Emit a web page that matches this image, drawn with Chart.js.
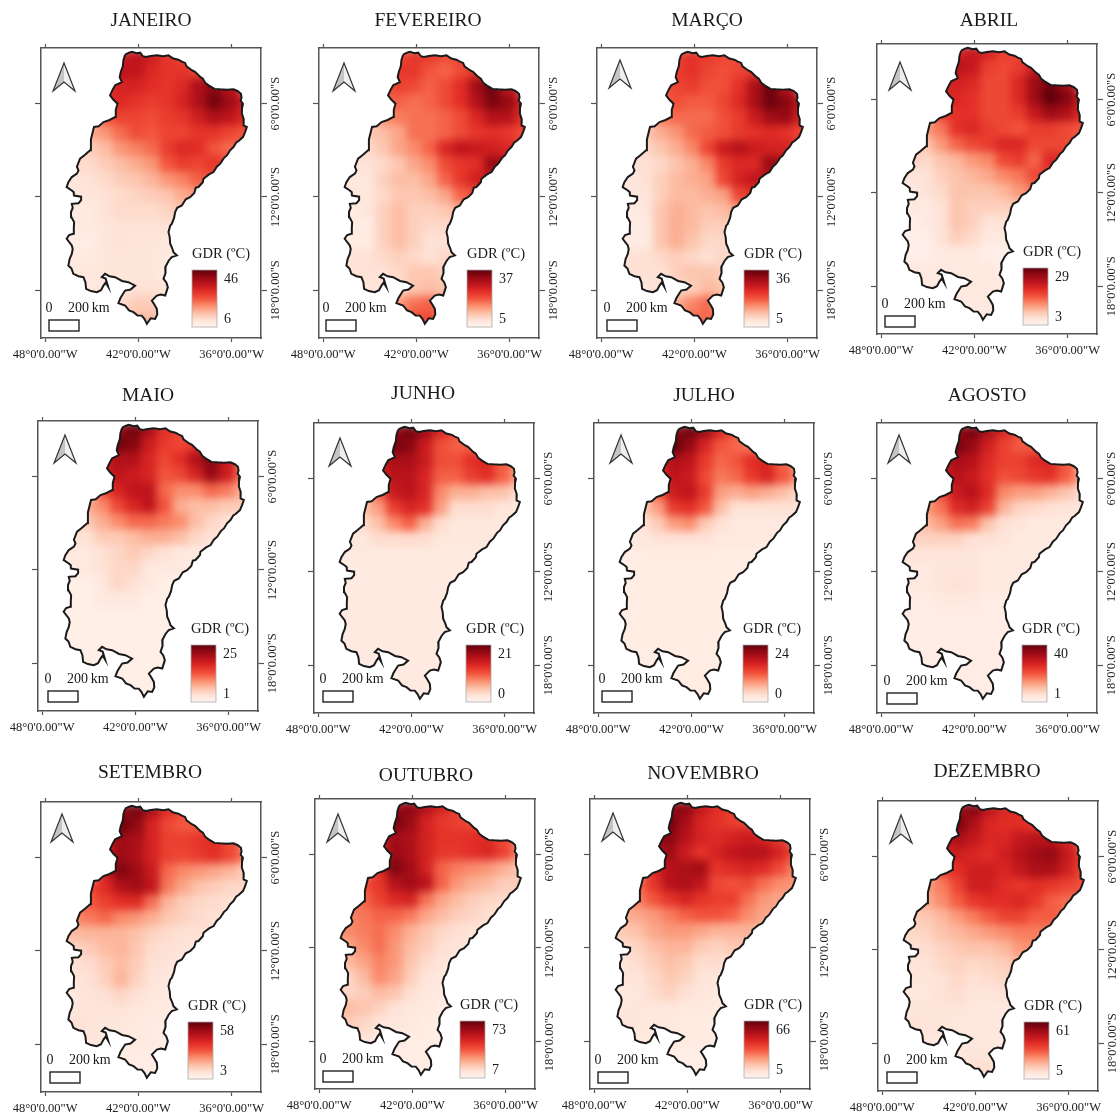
<!DOCTYPE html>
<html>
<head>
<meta charset="utf-8">
<script src="https://cdn.jsdelivr.net/npm/chart.js@4"></script>
<style>
  html, body { margin: 0; padding: 0; background: #fff; overflow: hidden; }
  #page { position: relative; width: 1120px; height: 1113px; overflow: hidden; }
  canvas { position: absolute; }
</style>
</head>
<body>
<div id="page"></div>
<script>
const monthNames = ["JANEIRO", "FEVEREIRO", "MARÇO", "ABRIL", "MAIO", "JUNHO", "JULHO", "AGOSTO", "SETEMBRO", "OUTUBRO", "NOVEMBRO", "DEZEMBRO"];
const scaleMax = [46, 37, 36, 29, 25, 21, 24, 40, 58, 73, 66, 61];
const scaleMin = [6, 5, 5, 3, 1, 0, 0, 1, 3, 7, 5, 5];

const lonTicks = [-48, -42, -36];
const lonLabels = ["48°0'0.00\"W", "42°0'0.00\"W", "36°0'0.00\"W"];
const latTicks = [-6, -12, -18];
const latLabels = ["6°0'0.00\"S", "12°0'0.00\"S", "18°0'0.00\"S"];

// region border as [lon, lat]
const borderCoords = [
  [-42.85, -2.85], [-42.6, -2.72], [-42.42, -2.67], [-42.1, -2.75], [-41.88, -2.72], [-41.7, -2.95], [-41.52, -3.0], [-41.2, -2.93],
  [-40.81, -2.89], [-40.4, -2.95], [-40.06, -2.89], [-39.75, -3.1], [-39.42, -3.17], [-39.2, -3.3], [-38.99, -3.38], [-38.9, -3.6],
  [-38.56, -3.85], [-38.35, -3.95], [-38.02, -4.28], [-37.85, -4.4], [-37.7, -4.65], [-37.48, -4.82], [-37.1, -5.05], [-36.73, -5.08],
  [-36.3, -5.1], [-35.88, -5.08], [-35.6, -5.2], [-35.4, -5.36], [-35.36, -5.6], [-35.42, -5.8], [-35.27, -6.0], [-35.33, -6.3],
  [-35.34, -6.64], [-35.22, -7.0], [-35.23, -7.39], [-35.02, -7.5], [-35.14, -7.85], [-35.27, -8.15], [-35.55, -8.4], [-35.7, -8.5],
  [-35.88, -8.79], [-36.1, -9.0], [-36.3, -9.33], [-36.5, -9.5], [-36.73, -9.86], [-36.95, -10.05], [-37.16, -10.4], [-37.45, -10.55],
  [-37.81, -10.83], [-37.85, -11.05], [-38.13, -11.36], [-38.3, -11.4], [-38.4, -11.75], [-38.67, -12.01], [-38.95, -12.15], [-39.2, -12.55],
  [-39.5, -12.7], [-39.63, -12.97], [-39.7, -13.35], [-39.85, -13.73], [-39.95, -13.85], [-40.06, -14.26], [-39.98, -14.6], [-39.95, -15.01],
  [-39.82, -15.3], [-39.74, -15.55], [-39.52, -15.76], [-39.85, -15.87], [-40.05, -16.1], [-40.27, -16.52], [-40.25, -16.9], [-40.38, -17.27],
  [-40.2, -17.5], [-40.1, -17.8], [-40.27, -18.34], [-40.55, -18.28], [-40.81, -18.34], [-41.13, -18.66], [-40.95, -18.95], [-40.81, -19.2],
  [-40.78, -19.55], [-40.92, -19.84], [-41.2, -19.8], [-41.45, -20.16], [-41.6, -19.85], [-41.78, -19.63], [-42.05, -19.62], [-42.31, -19.41],
  [-42.6, -19.3], [-42.85, -18.98], [-43.28, -18.83], [-43.15, -18.5], [-42.85, -18.02], [-42.5, -17.95], [-42.21, -17.7], [-42.64, -17.48],
  [-43.05, -17.4], [-43.49, -17.16], [-43.85, -17.1], [-44.14, -16.94], [-44.35, -17.16], [-44.1, -17.25], [-43.95, -17.75], [-44.1, -17.5],
  [-44.24, -17.7], [-44.4, -18.0], [-44.67, -18.12], [-45.05, -18.05], [-45.36, -17.91], [-45.4, -17.5], [-45.53, -17.16], [-45.85, -17.1],
  [-46.18, -16.94], [-46.3, -16.6], [-46.5, -16.41], [-46.42, -16.0], [-46.28, -15.66], [-46.22, -15.35], [-46.28, -15.12], [-46.61, -14.69],
  [-46.45, -14.45], [-46.18, -14.37], [-46.15, -14.0], [-46.13, -13.62], [-46.3, -13.3], [-46.33, -12.97], [-46.22, -12.7], [-46.28, -12.44],
  [-45.85, -12.4], [-45.68, -12.2], [-45.68, -11.98], [-46.18, -11.9], [-46.15, -11.7], [-46.28, -11.58], [-46.61, -11.36], [-46.5, -11.05], [-46.28, -10.72],
  [-45.95, -10.5], [-45.85, -10.29], [-45.95, -10.05], [-45.75, -9.54], [-45.45, -9.3], [-45.1, -9.0], [-45.05, -8.3], [-44.85, -7.5],
  [-44.55, -7.45], [-44.24, -7.18], [-43.85, -7.05], [-43.49, -6.86], [-43.45, -6.4], [-43.34, -6.0], [-43.6, -5.75], [-43.82, -5.46],
  [-43.65, -5.1], [-43.49, -4.82], [-43.06, -4.61], [-43.2, -4.3], [-43.13, -3.96], [-43.0, -3.6], [-42.96, -3.21], [-42.85, -2.85],
];

// one row of cells per latitude, the row starts at gridStartLon and goes east in 1 degree steps
const gridLat = [-3, -4, -5, -6, -7, -8, -9, -10, -11, -12, -13, -14, -15, -16, -17, -18, -19, -20];
const gridStartLon = [-43, -44, -44, -44, -44, -45, -46, -46, -47, -47, -47, -47, -47, -47, -47, -46, -44, -43];

const gdrJaneiro = [
  [34, 36, 34, 30, 28],
  [32, 36, 36, 32, 30, 30, 28],
  [30, 33, 33, 31, 30, 32, 38, 42, 36],
  [30, 32, 30, 29, 30, 33, 38, 44, 40, 34],
  [26, 28, 28, 27, 29, 30, 34, 38, 36, 32],
  [18, 20, 24, 27, 26, 28, 28, 30, 30, 28, 26],
  [14, 14, 16, 20, 22, 24, 29, 32, 31, 26, 24, 24],
  [12, 12, 14, 16, 18, 20, 26, 29, 28, 30, 28],
  [10, 10, 11, 12, 14, 15, 17, 20, 22, 25, 27],
  [10, 10, 10, 11, 12, 13, 14, 15, 18, 20],
  [9, 9, 9, 11, 12, 12, 12, 13, 15],
  [9, 9, 9, 10, 11, 11, 11, 11, 12],
  [8, 8, 8, 10, 11, 10, 10, 10, 10],
  [9, 9, 9, 10, 10, 10, 10, 9, 9],
  [9, 9, 10, 10, 10, 10, 10, 9, 9],
  [9, 9, 10, 10, 11, 11, 10, 10],
  [11, 12, 14, 14, 12],
  [14, 16, 16, 14],
];
const gdrFevereiro = [
  [22, 24, 24, 22, 22],
  [22, 24, 24, 21, 20, 22, 24],
  [21, 23, 22, 20, 22, 25, 32, 36, 28],
  [20, 20, 19, 20, 22, 25, 30, 35, 33, 27],
  [17, 18, 19, 19, 20, 22, 26, 30, 30, 25],
  [12, 13, 15, 19, 19, 20, 22, 24, 25, 24, 22],
  [10, 10, 12, 15, 17, 20, 26, 29, 28, 27, 26, 24],
  [9, 9, 10, 12, 15, 17, 22, 24, 25, 33, 30],
  [8, 8, 8, 11, 13, 13, 15, 20, 24, 27, 28],
  [8, 8, 8, 10, 12, 12, 13, 15, 20, 22],
  [7, 7, 8, 11, 13, 11, 11, 12, 14],
  [7, 7, 7, 11, 13, 11, 10, 10, 10],
  [7, 7, 7, 11, 13, 11, 9, 9, 9],
  [8, 9, 9, 10, 11, 10, 9, 10, 10],
  [9, 9, 9, 9, 10, 12, 12, 11, 10],
  [8, 8, 9, 10, 12, 13, 12, 11],
  [13, 16, 19, 20, 16],
  [18, 22, 22, 18],
];
const gdrMarco = [
  [22, 24, 23, 22, 21],
  [21, 23, 24, 22, 21, 22, 23],
  [20, 22, 23, 21, 21, 24, 30, 35, 28],
  [20, 21, 20, 20, 22, 25, 30, 35, 33, 28],
  [18, 19, 19, 19, 21, 23, 27, 31, 32, 26],
  [12, 14, 16, 19, 20, 21, 23, 24, 25, 24, 22],
  [10, 10, 12, 14, 17, 22, 27, 29, 27, 26, 26, 24],
  [9, 9, 10, 12, 14, 17, 23, 25, 25, 32, 30],
  [8, 8, 9, 11, 13, 14, 15, 22, 26, 28, 28],
  [8, 8, 8, 11, 13, 13, 14, 15, 22, 24],
  [7, 7, 8, 12, 14, 13, 12, 13, 15],
  [7, 7, 7, 12, 14, 13, 11, 11, 11],
  [7, 7, 7, 12, 14, 12, 10, 10, 10],
  [8, 9, 9, 10, 11, 10, 9, 10, 10],
  [9, 9, 9, 9, 11, 12, 12, 11, 10],
  [8, 8, 9, 10, 11, 13, 12, 11],
  [12, 14, 17, 19, 15],
  [16, 19, 19, 17],
];
const gdrAbril = [
  [20, 22, 21, 18, 17],
  [21, 23, 22, 18, 17, 18, 21],
  [20, 21, 20, 17, 17, 20, 25, 28, 24],
  [20, 20, 19, 17, 17, 20, 25, 29, 27, 22],
  [18, 19, 19, 17, 17, 18, 22, 25, 24, 20],
  [12, 14, 19, 20, 18, 17, 16, 18, 18, 17, 16],
  [9, 9, 12, 15, 17, 18, 20, 20, 17, 17, 17, 16],
  [8, 7, 9, 10, 12, 13, 17, 18, 15, 20, 19],
  [6, 6, 6, 8, 9, 10, 11, 13, 14, 17, 18],
  [5, 5, 6, 7, 9, 9, 9, 10, 12, 14],
  [5, 5, 5, 6, 9, 8, 8, 8, 9],
  [4, 4, 5, 6, 9, 8, 6, 6, 6],
  [4, 4, 4, 6, 8, 7, 5, 5, 5],
  [4, 4, 4, 5, 5, 5, 4, 4, 4],
  [5, 5, 5, 5, 5, 5, 5, 4, 4],
  [5, 5, 5, 5, 5, 5, 5, 4],
  [5, 5, 5, 5, 5],
  [5, 5, 5, 5],
];
const gdrMaio = [
  [21, 24, 21, 16, 14],
  [20, 24, 23, 18, 15, 14, 15],
  [17, 20, 20, 17, 14, 16, 20, 23, 18],
  [17, 19, 18, 17, 13, 14, 17, 22, 18, 12],
  [14, 17, 19, 19, 12, 10, 10, 12, 11, 8],
  [8, 10, 14, 17, 19, 13, 8, 7, 7, 6, 6],
  [5, 6, 8, 10, 12, 12, 11, 10, 7, 5, 4, 4],
  [4, 4, 6, 6, 7, 8, 8, 7, 5, 4, 4],
  [3, 3, 3, 4, 5, 6, 5, 4, 3, 3, 3],
  [3, 3, 3, 4, 5, 5, 3, 3, 3, 3],
  [2, 2, 2, 3, 5, 4, 3, 2, 2],
  [2, 2, 2, 3, 3, 3, 2, 2, 2],
  [2, 2, 2, 2, 2, 2, 2, 2, 2],
  [2, 2, 2, 2, 2, 2, 2, 2, 2],
  [2, 2, 2, 2, 2, 2, 2, 2, 2],
  [2, 2, 2, 2, 2, 2, 2, 2],
  [2, 2, 2, 2, 2],
  [2, 2, 2, 2],
];
const gdrJunho = [
  [18, 20, 18, 14, 11],
  [17, 20, 19, 15, 11, 10, 10],
  [14, 17, 17, 15, 11, 11, 13, 14, 10],
  [14, 16, 16, 14, 10, 10, 12, 13, 10, 7],
  [10, 15, 16, 14, 8, 6, 6, 5, 5, 3],
  [5, 7, 12, 14, 13, 7, 3, 3, 3, 2, 2],
  [2, 3, 5, 8, 10, 6, 3, 2, 2, 2, 2, 2],
  [2, 2, 3, 3, 3, 3, 2, 2, 2, 2, 2],
  [1.5, 1.5, 1.5, 1.5, 1.5, 1.5, 1.5, 1.5, 1.5, 1.5, 1.5],
  [1.5, 1.5, 1.5, 1.5, 1.5, 1.5, 1.5, 1.5, 1.5, 1.5],
  [1.5, 1.5, 1.5, 1.5, 1.5, 1.5, 1.5, 1.5, 1.5],
  [1.5, 1.5, 1.5, 1.5, 1.5, 1.5, 1.5, 1.5, 1.5],
  [1.5, 1.5, 1.5, 1.5, 1.5, 1.5, 1.5, 1.5, 1.5],
  [1.5, 1.5, 1.5, 1.5, 1.5, 1.5, 1.5, 1.5, 1.5],
  [1.5, 1.5, 1.5, 1.5, 1.5, 1.5, 1.5, 1.5, 1.5],
  [1.5, 1.5, 1.5, 1.5, 1.5, 1.5, 1.5, 1.5],
  [1.5, 1.5, 1.5, 1.5, 1.5],
  [1.5, 1.5, 1.5, 1.5],
];
const gdrJulho = [
  [21, 23, 21, 16, 12],
  [20, 24, 21, 16, 12, 11, 10],
  [16, 19, 18, 14, 11, 12, 15, 16, 11],
  [15, 18, 17, 13, 10, 11, 14, 16, 12, 9],
  [12, 17, 18, 14, 8, 7, 8, 7, 6, 4],
  [5, 8, 14, 15, 12, 6, 3, 3, 3, 3, 3],
  [3, 3, 5, 8, 9, 5, 3, 2, 2, 2, 2, 2],
  [2, 2, 3, 3, 3, 3, 2, 2, 2, 2, 2],
  [1.5, 1.5, 1.5, 1.5, 1.5, 1.5, 1.5, 1.5, 1.5, 1.5, 1.5],
  [1.5, 1.5, 1.5, 1.5, 1.5, 1.5, 1.5, 1.5, 1.5, 1.5],
  [1.5, 1.5, 1.5, 1.5, 1.5, 1.5, 1.5, 1.5, 1.5],
  [1.5, 1.5, 1.5, 1.5, 1.5, 1.5, 1.5, 1.5, 1.5],
  [1.5, 1.5, 1.5, 1.5, 1.5, 1.5, 1.5, 1.5, 1.5],
  [1.5, 1.5, 1.5, 1.5, 1.5, 1.5, 1.5, 1.5, 1.5],
  [1.5, 1.5, 1.5, 1.5, 1.5, 1.5, 1.5, 1.5, 1.5],
  [1.5, 1.5, 1.5, 1.5, 1.5, 1.5, 1.5, 1.5],
  [1.5, 1.5, 1.5, 1.5, 1.5],
  [1.5, 1.5, 1.5, 1.5],
];
const gdrAgosto = [
  [35, 38, 33, 27, 22],
  [33, 38, 35, 28, 23, 20, 20],
  [28, 33, 31, 26, 23, 23, 26, 27, 20],
  [28, 31, 29, 25, 21, 22, 24, 25, 20, 14],
  [22, 29, 31, 26, 16, 14, 14, 12, 10, 7],
  [14, 18, 26, 28, 23, 12, 8, 7, 6, 5, 5],
  [10, 11, 14, 18, 17, 10, 6, 5, 4, 4, 4, 4],
  [8, 8, 8, 8, 6, 6, 5, 4, 4, 4, 4],
  [5, 5, 5, 5, 5, 5, 4, 4, 4, 4, 4],
  [4, 4, 4, 5, 5, 5, 4, 4, 4, 4],
  [4, 4, 4, 5, 6, 5, 4, 4, 4],
  [3, 3, 3, 4, 4, 4, 3, 3, 3],
  [3, 3, 3, 3, 3, 3, 3, 3, 3],
  [3, 3, 3, 3, 3, 3, 3, 3, 3],
  [3, 3, 3, 3, 3, 3, 3, 3, 3],
  [3, 3, 3, 3, 3, 3, 3, 3],
  [3, 3, 3, 3, 3],
  [3, 3, 3, 3],
];
const gdrSetembro = [
  [50, 55, 48, 38, 32],
  [48, 56, 52, 40, 33, 30, 30],
  [42, 50, 48, 40, 34, 34, 36, 38, 32],
  [42, 50, 47, 40, 34, 33, 35, 37, 33, 26],
  [42, 54, 50, 42, 28, 24, 22, 20, 18, 14],
  [33, 38, 46, 49, 44, 26, 20, 16, 14, 12, 12],
  [27, 30, 34, 37, 38, 27, 18, 14, 12, 11, 10, 10],
  [24, 26, 28, 24, 22, 19, 15, 13, 11, 10, 10],
  [16, 17, 18, 18, 18, 16, 13, 11, 10, 10, 10],
  [11, 12, 14, 17, 18, 15, 11, 10, 9, 9],
  [10, 10, 11, 14, 17, 14, 10, 9, 9],
  [9, 9, 10, 13, 18, 13, 9, 8, 8],
  [8, 8, 9, 10, 12, 10, 8, 7, 7],
  [9, 9, 9, 9, 9, 8, 7, 7, 6],
  [10, 10, 9, 8, 8, 7, 7, 6, 6],
  [9, 8, 8, 7, 7, 7, 6, 6],
  [6, 6, 6, 6, 6],
  [6, 6, 6, 6],
];
const gdrOutubro = [
  [62, 66, 60, 52, 45],
  [60, 70, 64, 52, 46, 44, 42],
  [52, 62, 60, 52, 47, 47, 48, 50, 42],
  [52, 64, 60, 52, 46, 46, 48, 50, 44, 34],
  [50, 68, 62, 52, 38, 34, 32, 30, 26, 22],
  [42, 46, 58, 62, 58, 38, 30, 26, 24, 20, 20],
  [36, 38, 44, 50, 52, 36, 28, 24, 20, 18, 17, 17],
  [33, 35, 38, 38, 35, 28, 24, 20, 18, 16, 16],
  [30, 32, 34, 36, 32, 26, 22, 18, 16, 15, 15],
  [26, 28, 32, 36, 30, 24, 20, 16, 15, 14],
  [20, 24, 28, 33, 30, 22, 17, 14, 14],
  [17, 18, 24, 32, 28, 20, 14, 13, 13],
  [18, 18, 20, 24, 22, 16, 13, 12, 12],
  [24, 24, 22, 19, 15, 13, 12, 11, 11],
  [20, 20, 18, 14, 13, 12, 11, 10, 10],
  [15, 14, 12, 12, 11, 11, 10, 10],
  [10, 10, 11, 11, 10],
  [10, 10, 11, 10],
];
const gdrNovembro = [
  [58, 60, 50, 44, 40],
  [58, 63, 55, 46, 42, 40, 38],
  [58, 60, 52, 46, 44, 46, 48, 46, 40],
  [54, 56, 48, 42, 46, 50, 52, 52, 46, 38],
  [46, 52, 54, 56, 42, 44, 46, 44, 38, 30],
  [34, 42, 52, 54, 50, 38, 36, 38, 32, 28, 26],
  [26, 30, 36, 42, 46, 42, 40, 40, 32, 26, 24, 24],
  [22, 24, 26, 30, 34, 36, 36, 34, 28, 24, 24],
  [17, 18, 20, 24, 26, 26, 24, 22, 22, 22, 22],
  [13, 14, 16, 20, 22, 22, 18, 16, 18, 20],
  [12, 12, 14, 17, 20, 18, 14, 14, 14],
  [11, 11, 12, 15, 18, 16, 12, 11, 11],
  [10, 10, 11, 14, 16, 13, 11, 10, 10],
  [11, 11, 11, 11, 11, 10, 10, 9, 9],
  [11, 11, 11, 10, 10, 9, 9, 8, 8],
  [10, 10, 9, 9, 9, 9, 8, 8],
  [8, 8, 8, 8, 8],
  [8, 8, 8, 8],
];
const gdrDezembro = [
  [52, 56, 48, 42, 40],
  [52, 58, 50, 42, 40, 40, 38],
  [46, 50, 46, 42, 42, 46, 48, 48, 42],
  [42, 44, 42, 40, 44, 48, 52, 54, 46, 38],
  [36, 40, 44, 44, 42, 46, 50, 50, 44, 36],
  [24, 28, 36, 44, 44, 40, 38, 40, 38, 36, 34],
  [20, 22, 26, 32, 38, 40, 40, 42, 38, 32, 30, 30],
  [16, 17, 20, 24, 28, 32, 36, 36, 32, 32, 30],
  [13, 14, 15, 18, 20, 22, 24, 26, 28, 28, 28],
  [12, 12, 13, 15, 17, 18, 18, 20, 24, 26],
  [11, 11, 12, 14, 15, 14, 15, 16, 20],
  [11, 11, 11, 12, 14, 12, 13, 14, 15],
  [10, 10, 10, 12, 13, 11, 11, 12, 12],
  [11, 11, 11, 11, 11, 10, 10, 9, 9],
  [12, 12, 11, 11, 10, 10, 10, 9, 9],
  [10, 10, 10, 10, 10, 10, 9, 9],
  [10, 10, 11, 11, 10],
  [12, 13, 13, 12],
];
const monthGrids = [gdrJaneiro, gdrFevereiro, gdrMarco, gdrAbril, gdrMaio, gdrJunho, gdrJulho, gdrAgosto, gdrSetembro, gdrOutubro, gdrNovembro, gdrDezembro];

// where each panel sits on the page: frame left/top, title centre, then offsets inside the frame
const panelLayout = [
  { left: 41, top: 48, titleX: 151, titleY: 21, legendX: 151, legendY: 222, arrowX: 23, arrowY: 15, barX: 8, barY: 272 },
  { left: 319, top: 48, titleX: 428, titleY: 21, legendX: 148, legendY: 222, arrowX: 25, arrowY: 15, barX: 7, barY: 272 },
  { left: 597, top: 48, titleX: 707, titleY: 21, legendX: 147, legendY: 222, arrowX: 23, arrowY: 12, barX: 10, barY: 272 },
  { left: 877, top: 44, titleX: 989, titleY: 21, legendX: 146, legendY: 224, arrowX: 23, arrowY: 18, barX: 8, barY: 272 },
  { left: 38, top: 421, titleX: 148, titleY: 396, legendX: 153, legendY: 224, arrowX: 27, arrowY: 14, barX: 10, barY: 270 },
  { left: 314, top: 423, titleX: 423, titleY: 394, legendX: 152, legendY: 222, arrowX: 26, arrowY: 15, barX: 9, barY: 268 },
  { left: 594, top: 423, titleX: 704, titleY: 396, legendX: 149, legendY: 222, arrowX: 27, arrowY: 12, barX: 8, barY: 268 },
  { left: 877, top: 423, titleX: 987, titleY: 396, legendX: 145, legendY: 222, arrowX: 22, arrowY: 12, barX: 10, barY: 270 },
  { left: 41, top: 802, titleX: 150, titleY: 773, legendX: 147, legendY: 220, arrowX: 21, arrowY: 12, barX: 9, barY: 270 },
  { left: 315, top: 799, titleX: 426, titleY: 776, legendX: 145, legendY: 222, arrowX: 23, arrowY: 15, barX: 8, barY: 272 },
  { left: 590, top: 799, titleX: 703, titleY: 774, legendX: 154, legendY: 222, arrowX: 23, arrowY: 14, barX: 8, barY: 273 },
  { left: 878, top: 801, titleX: 987, titleY: 772, legendX: 146, legendY: 221, arrowX: 23, arrowY: 14, barX: 9, barY: 271 },
];

const frameWidth = 220;
const frameHeight = 290;
const marginLeft = 42;
const marginTop = 40;
const marginRight = 30;
const marginBottom = 30;
const serif = "'Liberation Serif'";
const frameColor = "#555";

const reds = [[255, 245, 240], [254, 226, 214], [252, 190, 165], [250, 140, 108], [242, 84, 60], [226, 45, 38], [190, 20, 28], [150, 10, 20], [95, 0, 12]];

const redColor = (t) => {
  const pos = Math.min(Math.max(t, 0), 1) * (reds.length - 1);
  const i = Math.min(Math.floor(pos), reds.length - 2);
  const f = pos - i;
  const c = reds[i].map((v, k) => Math.round(v + (reds[i + 1][k] - v) * f));
  return `rgb(${c[0]}, ${c[1]}, ${c[2]})`;
};

const borderPoints = borderCoords.map((c) => ({ x: c[0], y: c[1] }));

const cellPoints = (grid) => {
  const points = [];
  grid.forEach((row, r) => {
    row.forEach((value, c) => {
      points.push({ x: gridStartLon[r] + c, y: gridLat[r], v: value });
    });
  });
  return points;
};

// the cells are drawn as a mosaic, then swapped for a blurred copy cut to the border
const heatPlugin = {
  id: "heatPlugin",
  afterDatasetDraw(chart, args) {
    if (args.index !== 0) return;
    const { ctx, canvas, scales, chartArea } = chart;
    const copy = document.createElement("canvas");
    copy.width = canvas.width;
    copy.height = canvas.height;
    const copyCtx = copy.getContext("2d");
    copyCtx.filter = "blur(4.5px)";
    copyCtx.drawImage(canvas, 0, 0);

    ctx.save();
    ctx.clearRect(chartArea.left + 1, chartArea.top + 1, chartArea.width - 2, chartArea.height - 2);
    ctx.beginPath();
    borderPoints.forEach((p, i) => {
      const x = scales.x.getPixelForValue(p.x);
      const y = scales.y.getPixelForValue(p.y);
      if (i === 0) ctx.moveTo(x, y);
      else ctx.lineTo(x, y);
    });
    ctx.closePath();
    ctx.clip();
    ctx.drawImage(copy, 0, 0);
    ctx.restore();
  },
};

const drawArrow = (ctx, x, y) => {
  ctx.beginPath();
  ctx.moveTo(x, y);
  ctx.lineTo(x - 11, y + 28);
  ctx.lineTo(x, y + 19);
  ctx.closePath();
  ctx.fillStyle = "#c4c4c4";
  ctx.fill();
  ctx.beginPath();
  ctx.moveTo(x, y);
  ctx.lineTo(x + 11, y + 28);
  ctx.lineTo(x, y + 19);
  ctx.closePath();
  ctx.fillStyle = "#eee";
  ctx.fill();
  ctx.beginPath();
  ctx.moveTo(x, y);
  ctx.lineTo(x - 11, y + 28);
  ctx.lineTo(x, y + 19);
  ctx.lineTo(x + 11, y + 28);
  ctx.closePath();
  ctx.strokeStyle = "#333";
  ctx.lineWidth = 1.2;
  ctx.stroke();
};

const extrasPlugin = {
  id: "extrasPlugin",
  afterDraw(chart, args, opts) {
    const { ctx, chartArea } = chart;
    const p = panelLayout[opts.month];
    const left = chartArea.left;
    const top = chartArea.top;
    ctx.save();

    // title
    ctx.fillStyle = "#1a1a1a";
    ctx.textBaseline = "middle";
    ctx.textAlign = "center";
    ctx.font = `19.5px ${serif}`;
    ctx.fillText(monthNames[opts.month], p.titleX - p.left + left, p.titleY - p.top + top);

    drawArrow(ctx, left + p.arrowX, top + p.arrowY);

    // scale bar
    ctx.fillStyle = "#fff";
    ctx.fillRect(left + p.barX, top + p.barY, 30, 11);
    ctx.strokeStyle = "#222";
    ctx.lineWidth = 1.4;
    ctx.strokeRect(left + p.barX, top + p.barY, 30, 11);
    ctx.fillStyle = "#1a1a1a";
    ctx.font = `14px ${serif}`;
    ctx.textAlign = "center";
    ctx.fillText("0", left + p.barX, top + p.barY - 12);
    ctx.textAlign = "left";
    ctx.fillText("200\u2009km", left + p.barX + 19, top + p.barY - 12);

    // colour scale
    const x = left + p.legendX;
    const y = top + p.legendY;
    const gradient = ctx.createLinearGradient(0, y, 0, y + 57);
    reds.forEach((c, i) => {
      gradient.addColorStop(1 - i / (reds.length - 1), `rgb(${c[0]}, ${c[1]}, ${c[2]})`);
    });
    ctx.fillStyle = gradient;
    ctx.fillRect(x, y, 25, 57);
    ctx.strokeStyle = "#aaa";
    ctx.lineWidth = 0.8;
    ctx.strokeRect(x, y, 25, 57);

    ctx.fillStyle = "#1a1a1a";
    ctx.textAlign = "center";
    ctx.font = `14.5px ${serif}`;
    ctx.fillText("GDR (ºC)", x + 29, y - 16);
    ctx.textAlign = "left";
    ctx.font = `14px ${serif}`;
    ctx.fillText(String(scaleMax[opts.month]), x + 32, y + 9);
    ctx.fillText(String(scaleMin[opts.month]), x + 32, y + 49);
    ctx.restore();
  },
};

const setLonTicks = (axis) => {
  axis.ticks = lonTicks.map((v) => ({ value: v }));
};
const setLatTicks = (axis) => {
  axis.ticks = latTicks.map((v) => ({ value: v }));
};

const makeLonAxis = (position, size, tickLength, showLabels) => ({
  type: "linear",
  axis: "x",
  position,
  min: -48.26,
  max: -34.11,
  afterBuildTicks: setLonTicks,
  afterFit: (axis) => { axis.height = size; },
  border: { display: true, color: frameColor, width: 1.5 },
  grid: { display: true, drawOnChartArea: false, drawTicks: true, tickLength, tickColor: frameColor, tickWidth: 1.2 },
  ticks: {
    display: showLabels,
    autoSkip: false,
    maxRotation: 0,
    minRotation: 0,
    padding: 5,
    color: "#222",
    font: { family: serif, size: 12.5 },
    callback: (value, index) => lonLabels[index],
  },
});

const makeLatAxis = (position, size, tickLength, showLabels) => ({
  type: "linear",
  axis: "y",
  position,
  min: -21.07,
  max: -2.42,
  afterBuildTicks: setLatTicks,
  afterFit: (axis) => { axis.width = size; },
  border: { display: true, color: frameColor, width: 1.5 },
  grid: { display: true, drawOnChartArea: false, drawTicks: true, tickLength, tickColor: frameColor, tickWidth: 1.2 },
  ticks: {
    display: showLabels,
    autoSkip: false,
    minRotation: 90,
    maxRotation: 90,
    crossAlign: "center",
    padding: -21,
    color: "#222",
    font: { family: serif, size: 12.5 },
    callback: (value, index) => latLabels[index],
  },
});

const page = document.getElementById("page");

monthGrids.forEach((grid, month) => {
  const p = panelLayout[month];
  const canvas = document.createElement("canvas");
  canvas.width = frameWidth + marginLeft + marginRight;
  canvas.height = frameHeight + marginTop + marginBottom;
  canvas.style.left = `${p.left - marginLeft}px`;
  canvas.style.top = `${p.top - marginTop}px`;
  page.appendChild(canvas);

  const points = cellPoints(grid);
  const low = scaleMin[month];
  const high = scaleMax[month];

  new Chart(canvas, {
    type: "scatter",
    data: {
      datasets: [
        {
          data: points,
          pointStyle: "rect",
          pointRadius: 14,
          pointBorderWidth: 0,
          pointBackgroundColor: points.map((pt) => redColor((pt.v - low) / (high - low))),
          clip: -2,
          order: 1,
        },
        {
          data: borderPoints,
          showLine: true,
          fill: false,
          pointRadius: 0,
          borderColor: "#1a1a1a",
          borderWidth: 2,
          tension: 0,
          order: 0,
        },
      ],
    },
    options: {
      responsive: false,
      animation: false,
      events: [],
      devicePixelRatio: 1,
      layout: { padding: 0, autoPadding: false },
      plugins: {
        legend: { display: false },
        tooltip: { enabled: false },
        title: { display: false },
        extrasPlugin: { month },
      },
      scales: {
        x: makeLonAxis("bottom", marginBottom, 4, true),
        x2: makeLonAxis("top", marginTop, 4, false),
        y: makeLatAxis("right", marginRight, 6, true),
        y2: makeLatAxis("left", marginLeft, 6, false),
      },
    },
    plugins: [heatPlugin, extrasPlugin],
  });
});
</script>
</body>
</html>
